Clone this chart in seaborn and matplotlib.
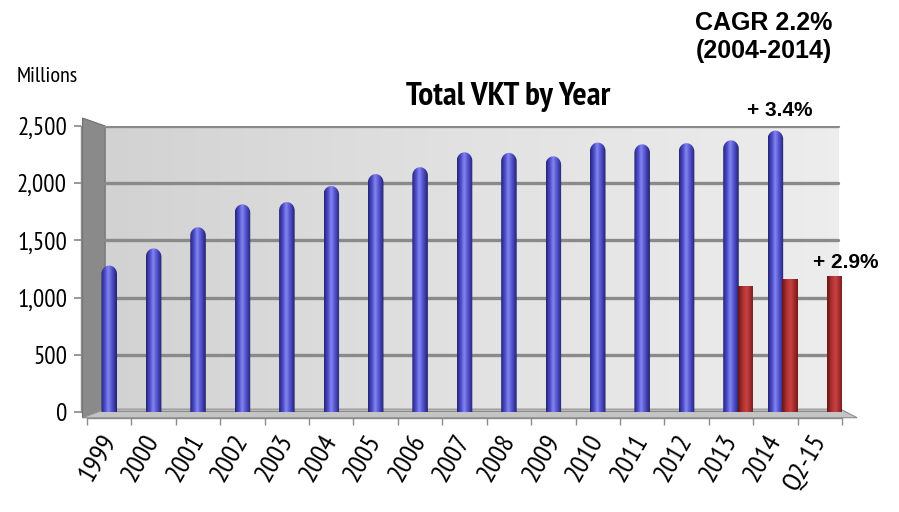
import numpy as np
import pandas as pd
import seaborn as sns
import matplotlib.pyplot as plt
from matplotlib.path import Path
from matplotlib.patches import PathPatch, Polygon
from matplotlib.colors import LinearSegmentedColormap

# data (millions of VKT)
years = ['1999', '2000', '2001', '2002', '2003', '2004', '2005', '2006', '2007',
         '2008', '2009', '2010', '2011', '2012', '2013', '2014', 'Q2-15']
total_vkt = [1280, 1430, 1615, 1815, 1835, 1975, 2080, 2140, 2270,
             2265, 2235, 2355, 2340, 2350, 2375, 2460, np.nan]
half_year_vkt = [np.nan] * 14 + [1105, 1160, 1190]
y_ticks = [0, 500, 1000, 1500, 2000, 2500]

title = 'Total VKT by Year'
cagr_text = 'CAGR 2.2%\n(2004-2014)'
growth_2014 = '+ 3.4%'
growth_q2 = '+ 2.9%'

narrow = ['PT Sans Narrow', 'DejaVu Sans']
arial = ['Liberation Sans', 'DejaVu Sans']

blue_cmap = LinearSegmentedColormap.from_list(
    'cyl', [(0, '#23237a'), (0.28, '#5454d2'), (0.45, '#8585f0'),
            (0.7, '#5050cc'), (1, '#22226e')])
red_cmap = LinearSegmentedColormap.from_list(
    'box', [(0, '#6a1414'), (0.3, '#b03232'), (0.55, '#c84242'),
            (1, '#761818')])


def shade_bar(ax, patch, cmap, cap=0.0):
    x0, w, h = patch.get_x(), patch.get_width(), patch.get_height()
    patch.set_visible(False)
    if not np.isfinite(h) or h <= 0:
        return
    x1 = x0 + w
    if cap > 0:
        t = np.linspace(np.pi, 0, 40)
        top = np.column_stack([x0 + w / 2 + w / 2 * np.cos(t), h - cap + cap * np.sin(t)])
        verts = np.vstack([[x0, 0], top, [x1, 0], [x0, 0]])
    else:
        verts = np.array([[x0, 0], [x0, h], [x1, h], [x1, 0], [x0, 0]])
    clip = PathPatch(Path(verts, closed=True), transform=ax.transData,
                     facecolor='none', edgecolor='none')
    ax.add_patch(clip)
    grad = np.linspace(0, 1, 64).reshape(1, -1)
    im = ax.imshow(grad, cmap=cmap, extent=[x0, x1, 0, h], aspect='auto',
                   zorder=3, interpolation='bilinear')
    im.set_clip_path(clip)


sns.set_theme(style='white')
plt.rcParams['font.family'] = narrow
plt.rcParams['text.color'] = 'black'

fig = plt.figure(figsize=(8.99, 5.12), dpi=100)
ax = fig.add_axes([0.0968, 0.1953, 0.8398, 0.5586])

df_total = pd.DataFrame({'year': years, 'vkt': total_vkt}).dropna()
df_half = pd.DataFrame({'year': years, 'vkt': half_year_vkt}).dropna()

sns.barplot(data=df_total, x='year', y='vkt', order=years, color='#5555d5',
            width=0.35, ax=ax)
blue_patches = list(ax.patches)
sns.barplot(data=df_half, x='year', y='vkt', order=years, color='#b83434',
            width=0.34, ax=ax)
red_patches = [p for p in ax.patches if p not in blue_patches]

ax.set_autoscale_on(False)
for p in blue_patches:
    shade_bar(ax, p, blue_cmap, cap=75)
for p in red_patches:
    p.set_x(p.get_x() + 0.33)
    shade_bar(ax, p, red_cmap)

ax.set_xlim(-0.5, len(years) - 0.5)
ax.set_ylim(0, 2500)
ax.set_xlabel('')
ax.set_ylabel('')

# 3D-ish back wall, side wall and floor
ax.set_facecolor('none')
wall_x0, wall_x1 = 0.024, 0.995
wall = np.linspace(0, 1, 64).reshape(1, -1)
ax.imshow(wall, cmap=LinearSegmentedColormap.from_list('w', ['#d2d2d2', '#e2e2e2', '#ededed']),
          extent=[wall_x0, wall_x1, 0, 1], transform=ax.transAxes, aspect='auto', zorder=0)
ax.add_patch(Polygon([[-0.006, -0.02], [-0.006, 1.028], [wall_x0, 1.0], [wall_x0, 0.0]],
                     closed=True, transform=ax.transAxes, facecolor='#8a8a8a',
                     edgecolor='#707070', lw=0.8, clip_on=False, zorder=1))
ax.add_patch(Polygon([[-0.006, -0.02], [1.02, -0.02], [0.998, 0.01], [wall_x0, 0.01]],
                     closed=True, transform=ax.transAxes, facecolor='#c4c4c4',
                     edgecolor='#8f8f8f', lw=0.8, clip_on=False, zorder=1))
for v in y_ticks:
    ax.axhline(v, xmin=wall_x0, xmax=wall_x1, color='#8a8a8a', lw=2.4, zorder=1)

ax.set_yticks(y_ticks)
ax.set_yticklabels([f'{v:,}' for v in y_ticks])
ax.set_xticks(range(len(years)))
ax.set_xticklabels(years)
ax.set_xticks(np.arange(len(years) + 1) - 0.5, minor=True)

for s in ['top', 'right']:
    ax.spines[s].set_visible(False)
ax.spines['left'].set_position(('axes', -0.008))
ax.spines['bottom'].set_position(('axes', -0.021))
for s in ['left', 'bottom']:
    ax.spines[s].set_color('#8c8c8c')
    ax.spines[s].set_linewidth(1.0)

ax.tick_params(axis='y', which='major', left=True, length=5, color='#8c8c8c',
               labelsize=18, pad=5, labelcolor='black')
ax.tick_params(axis='x', which='major', bottom=False, length=0, labelsize=20,
               pad=13, labelcolor='black', labelrotation=60)
ax.tick_params(axis='x', which='minor', bottom=True, length=5, color='#8c8c8c')
for lab in ax.get_xticklabels():
    lab.set_horizontalalignment('right')
    lab.set_verticalalignment('center')
    lab.set_rotation_mode('anchor')

fig.text(0.019, 1 - 76 / 512, 'Millions', ha='left', va='center', fontsize=16,
         family=narrow, color='black')
fig.text(508 / 899, 1 - 97 / 512, title, ha='center', va='center', fontsize=24,
         fontweight='bold', family=narrow, color='black')
fig.text(764 / 899, 1 - 37 / 512, cagr_text, ha='center', va='center', fontsize=18,
         fontweight='bold', family=arial, linespacing=1.2, color='black')
fig.text(780 / 899, 1 - 110 / 512, growth_2014, ha='center', va='center', fontsize=15,
         fontweight='bold', family=arial, color='black')
fig.text(846 / 899, 1 - 262 / 512, growth_q2, ha='center', va='center', fontsize=15,
         fontweight='bold', family=arial, color='black')

fig.savefig('out.png', dpi=100, facecolor='white')
